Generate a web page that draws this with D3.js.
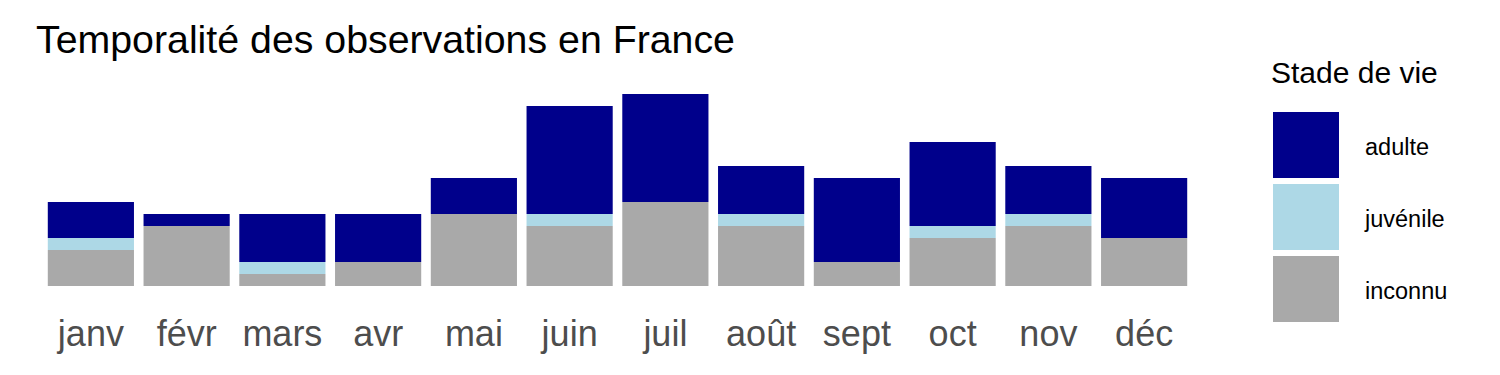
<!DOCTYPE html>
<html>
<head>
<meta charset="utf-8">
<script src="https://cdn.jsdelivr.net/npm/d3@7"></script>
<style>
  html, body { margin: 0; padding: 0; background: #fff; }
  svg { display: block; font-family: "Liberation Sans", Arial, sans-serif; }
</style>
</head>
<body>
<div id="chart"></div>
<script>
const months = ['janv', 'févr', 'mars', 'avr', 'mai', 'juin', 'juil', 'août', 'sept', 'oct', 'nov', 'déc'];
const adulte = [3, 1, 4, 4, 3, 9, 9, 4, 7, 7, 4, 5];
const juvenile = [1, 0, 1, 0, 0, 1, 0, 1, 0, 1, 1, 0];
const inconnu = [3, 5, 1, 2, 6, 5, 7, 5, 2, 4, 5, 4];
const stages = ['inconnu', 'juvénile', 'adulte'];
const legendStages = ['adulte', 'juvénile', 'inconnu'];
const colors = { 'adulte': '#00008B', 'juvénile': '#ADD8E6', 'inconnu': '#A9A9A9' };

const width = 1500;
const height = 375;

const rows = months.map((m, i) => ({
  month: m,
  'adulte': adulte[i],
  'juvénile': juvenile[i],
  'inconnu': inconnu[i]
}));

const svg = d3.select('#chart')
  .append('svg')
  .attr('width', width)
  .attr('height', height);

// Scales
const x = d3.scaleBand()
  .domain(months)
  .range([43, 1192])
  .paddingInner(0.1)
  .paddingOuter(0.05);

const y = d3.scaleLinear()
  .domain([0, 16])
  .range([286, 94]);

const series = d3.stack().keys(stages)(rows);

// Bars
svg.append('g')
  .selectAll('g')
  .data(series)
  .join('g')
  .attr('fill', d => colors[d.key])
  .selectAll('rect')
  .data(d => d)
  .join('rect')
  .attr('x', d => x(d.data.month))
  .attr('y', d => y(d[1]))
  .attr('width', x.bandwidth())
  .attr('height', d => y(d[0]) - y(d[1]));

// X axis labels
const xAxis = svg.append('g')
  .attr('transform', 'translate(0,346)')
  .call(d3.axisBottom(x).tickSize(0).tickPadding(0));
xAxis.select('.domain').remove();
xAxis.selectAll('text')
  .attr('dy', 0)
  .attr('fill', '#4D4D4D')
  .style('font-size', '36px')
  .style('font-family', '"Liberation Sans", Arial, sans-serif');

// Title
svg.append('text')
  .attr('x', 36)
  .attr('y', 53)
  .attr('fill', '#000')
  .style('font-size', '39.3px')
  .text('Temporalité des observations en France');

// Legend
const legend = svg.append('g');
legend.append('text')
  .attr('x', 1271)
  .attr('y', 83)
  .style('font-size', '30px')
  .text('Stade de vie');

const item = legend.selectAll('g.item')
  .data(legendStages)
  .join('g')
  .attr('class', 'item')
  .attr('transform', (d, i) => `translate(1273,${112 + i * 72})`);

item.append('rect')
  .attr('width', 66)
  .attr('height', 66)
  .attr('fill', d => colors[d]);

item.append('text')
  .attr('x', 92)
  .attr('y', 43)
  .style('font-size', '23.5px')
  .text(d => d);
</script>
</body>
</html>
